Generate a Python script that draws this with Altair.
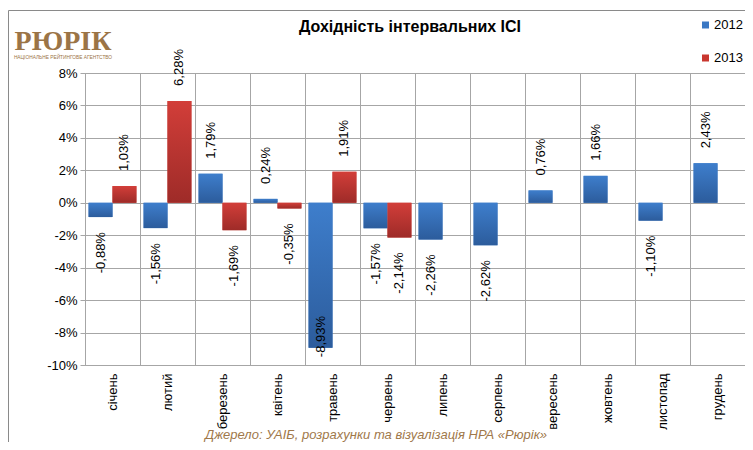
import altair as alt
import pandas as pd

months = ["січень", "лютий", "березень", "квітень", "травень", "червень",
          "липень", "серпень", "вересень", "жовтень", "листопад", "грудень"]
v2012 = [-0.88, -1.56, 1.79, 0.24, -8.93, -1.57, -2.26, -2.62, 0.76, 1.66, -1.10, 2.43]
v2013 = [1.03, 6.28, -1.69, -0.35, 1.91, -2.14]
years = ["2012", "2013"]
y_ticks = [-10, -8, -6, -4, -2, 0, 2, 4, 6, 8]

title_text = "Дохідність інтервальних ІСІ"
logo_text = "РЮРІК"
logo_sub = "НАЦІОНАЛЬНЕ РЕЙТИНГОВЕ АГЕНТСТВО"
footer_text = "Джерело: УАІБ, розрахунки та візуалізація НРА «Рюрік»"

rows = []
for m, v in zip(months, v2012):
    rows.append({"month": m, "year": "2012", "value": v})
for m, v in zip(months, v2013):
    rows.append({"month": m, "year": "2013", "value": v})
df = pd.DataFrame(rows)

FONT = "Liberation Sans"
GRID = "#A6A6A6"
BROWN = "#9B7446"

x = alt.X("month:N", sort=months,
          scale=alt.Scale(domain=months, paddingInner=0, paddingOuter=0),
          axis=alt.Axis(title=None, labelAngle=270, bandPosition=0, grid=True,
                        gridColor=GRID, ticks=False, domain=False, labelPadding=8,
                        labelFontSize=13, labelFont=FONT, labelColor="#000"))
xoff = alt.XOffset("year:N", scale=alt.Scale(domain=years, paddingInner=0, paddingOuter=0.15))
yscale = alt.Scale(domain=[-10, 8], nice=False, zero=False)
yaxis = alt.Axis(title=None, values=y_ticks, labelExpr="datum.value + '%'",
                 tickSize=5, tickColor=GRID, gridColor=GRID, domainColor=GRID,
                 labelPadding=3, labelFontSize=13, labelFont=FONT, labelColor="#000")
y = alt.Y("value:Q", scale=yscale, axis=yaxis)

base_bars = alt.Chart(df).mark_bar().encode(
    x=x, xOffset=xoff, y=y,
    color=alt.Color("year:N", scale=alt.Scale(domain=years, range=["#3A78C4", "#C9372F"]),
                    legend=alt.Legend(title=None, orient="none", legendX=614, legendY=-54.5,
                                      symbolType="square", symbolSize=49, labelFontSize=13,
                                      labelFont=FONT, labelColor="#000", rowPadding=19,
                                      labelOffset=2, padding=0, symbolStrokeWidth=0)),
)

grad_blue = alt.Gradient(gradient="linear",
                         stops=[alt.GradientStop(offset=0, color="#3E7ECC"),
                                alt.GradientStop(offset=1, color="#2C5C9C")],
                         x1=0, x2=0, y1=0, y2=1)
grad_red = alt.Gradient(gradient="linear",
                        stops=[alt.GradientStop(offset=0, color="#D23E39"),
                               alt.GradientStop(offset=1, color="#9E2B28")],
                        x1=0, x2=0, y1=0, y2=1)

blue_bars = alt.Chart(df).transform_filter("datum.year == '2012'").mark_bar(color=grad_blue).encode(
    x=x, xOffset=xoff, y=y)
red_bars = alt.Chart(df).transform_filter("datum.year == '2013'").mark_bar(color=grad_red).encode(
    x=x, xOffset=xoff, y=y)

lab = "(datum.value < 0 ? '-' : '') + replace(format(abs(datum.value), '.2f'), '.', ',') + '%'"
pos_labels = alt.Chart(df).transform_filter("datum.value > 0").transform_calculate(
    label=lab).mark_text(angle=270, align="left", baseline="middle", dx=15,
                         fontSize=13, font=FONT, color="#000").encode(
    x=x, xOffset=xoff, y=y, text="label:N")
neg_labels = alt.Chart(df).transform_filter("datum.value < 0").transform_calculate(
    label=lab, ly="max(datum.value, -6.05)").mark_text(
    angle=270, align="right", baseline="middle", dx=-15,
    fontSize=13, font=FONT, color="#000").encode(
    x=x, xOffset=xoff, y=alt.Y("ly:Q", scale=yscale, axis=yaxis), text="label:N")

one = pd.DataFrame({"k": [0]})
title = alt.Chart(one).mark_text(text=title_text, font=FONT, fontSize=16, fontWeight="bold",
                                 align="center", baseline="alphabetic", color="#000").encode(
    x=alt.value(325), y=alt.value(-41))
logo = alt.Chart(one).mark_text(text=logo_text, font="Liberation Serif", fontSize=28,
                                fontWeight="bold", align="center", baseline="alphabetic",
                                color=BROWN).encode(x=alt.value(-22), y=alt.value(-23))
logo2 = alt.Chart(one).mark_text(text=logo_sub, font=FONT, fontSize=4.8, align="center",
                                 baseline="alphabetic", color=BROWN).encode(
    x=alt.value(-22), y=alt.value(-14))
footer = alt.Chart(one).mark_text(text=footer_text, font=FONT, fontSize=13, fontStyle="italic",
                                  align="center", baseline="alphabetic", color="#A0784A").encode(
    x=alt.value(291), y=alt.value(366))
frame = alt.Chart(one).mark_rect(fill="transparent", stroke="#8A8A8A", strokeWidth=1).encode(
    x=alt.value(-76.5), x2=alt.value(700), y=alt.value(-62.5), y2=alt.value(420))

chart = alt.layer(frame, base_bars, blue_bars, red_bars, pos_labels, neg_labels,
                  title, logo, logo2, footer).properties(
    width=660, height=292,
    autosize=alt.AutoSizeParams(type="none"),
    padding={"left": 77, "top": 65, "right": 0, "bottom": 77},
    background="white",
).configure_view(stroke=GRID, strokeWidth=1)

chart.save("out.html", embed_options={"renderer": "svg", "actions": False})
